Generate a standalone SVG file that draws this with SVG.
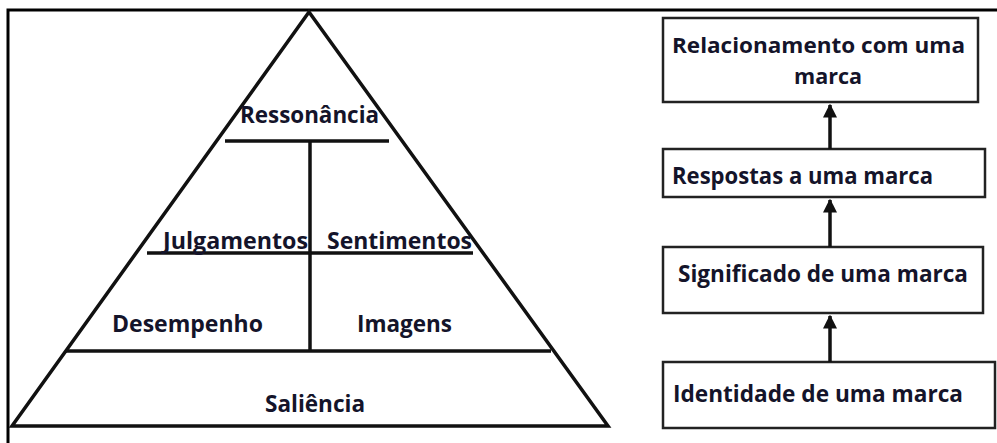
<svg xmlns="http://www.w3.org/2000/svg" width="997" height="443" viewBox="0 0 997 443">
<defs>
<style>
.t{font-family:"Open Sans","Liberation Sans",sans-serif;font-weight:bold;font-size:24px;fill:#14142a}
.s{font-size:22px}
.ln{stroke:#111;stroke-width:3.5;fill:none;stroke-linecap:butt}
.bx{stroke:#222;stroke-width:2.5;fill:#fff}
.ar{stroke:#111;stroke-width:3.5;fill:none}
</style>
<marker id="ah" viewBox="0 0 10 10" refX="9" refY="5" markerWidth="4" markerHeight="4" orient="auto" markerUnits="strokeWidth">
<path d="M0,0 L10,5 L0,10 z" fill="#111"/>
</marker>
</defs>
<rect width="997" height="443" fill="#fff"/>
<g id="frame">
<path d="M8,443 V10 H997" stroke="#000" stroke-width="3" fill="none"/>
</g>
<g id="pyramid">
<path class="ln" d="M12,426 L309,12 L608,426 Z" stroke-linejoin="miter"/>
<line class="ln" x1="66" y1="351" x2="551" y2="351"/>
<line class="ln" x1="147" y1="253" x2="473" y2="253"/>
<line class="ln" x1="225" y1="141" x2="389" y2="141"/>
<line class="ln" x1="310" y1="141" x2="310" y2="351"/>
</g>
<g id="n-ressonancia"><text class="t" x="240" y="123" textLength="139" lengthAdjust="spacingAndGlyphs">Ressonância</text></g>
<g id="n-julgamentos"><text class="t" x="163" y="249" textLength="145" lengthAdjust="spacingAndGlyphs">Julgamentos</text></g>
<g id="n-sentimentos"><text class="t" x="327" y="249" textLength="145" lengthAdjust="spacingAndGlyphs">Sentimentos</text></g>
<g id="n-desempenho"><text class="t" x="112" y="332" textLength="151" lengthAdjust="spacingAndGlyphs">Desempenho</text></g>
<g id="n-imagens"><text class="t" x="357" y="332" textLength="95" lengthAdjust="spacingAndGlyphs">Imagens</text></g>
<g id="n-saliencia"><text class="t" x="265" y="412" textLength="100" lengthAdjust="spacingAndGlyphs">Saliência</text></g>
<g id="b-relacionamento">
<rect class="bx" x="663" y="18" width="315" height="84"/>
<text class="t s" x="672" y="53" textLength="293" lengthAdjust="spacingAndGlyphs">Relacionamento com uma</text>
<text class="t s" x="794" y="84" textLength="68" lengthAdjust="spacingAndGlyphs">marca</text>
</g>
<g id="b-respostas">
<rect class="bx" x="663" y="149" width="322" height="48"/>
<text class="t" x="672" y="184" textLength="261" lengthAdjust="spacingAndGlyphs">Respostas a uma marca</text>
</g>
<g id="b-significado">
<rect class="bx" x="663" y="247" width="320" height="66"/>
<text class="t" x="678" y="282" textLength="290" lengthAdjust="spacingAndGlyphs">Significado de uma marca</text>
</g>
<g id="b-identidade">
<rect class="bx" x="663" y="362" width="332" height="66"/>
<text class="t" x="673" y="402" textLength="290" lengthAdjust="spacingAndGlyphs">Identidade de uma marca</text>
</g>
<g id="connectors">
<line class="ar" x1="830" y1="149" x2="830" y2="105" marker-end="url(#ah)"/>
<line class="ar" x1="830" y1="247" x2="830" y2="200" marker-end="url(#ah)"/>
<line class="ar" x1="830" y1="362" x2="830" y2="316" marker-end="url(#ah)"/>
</g>
</svg>
